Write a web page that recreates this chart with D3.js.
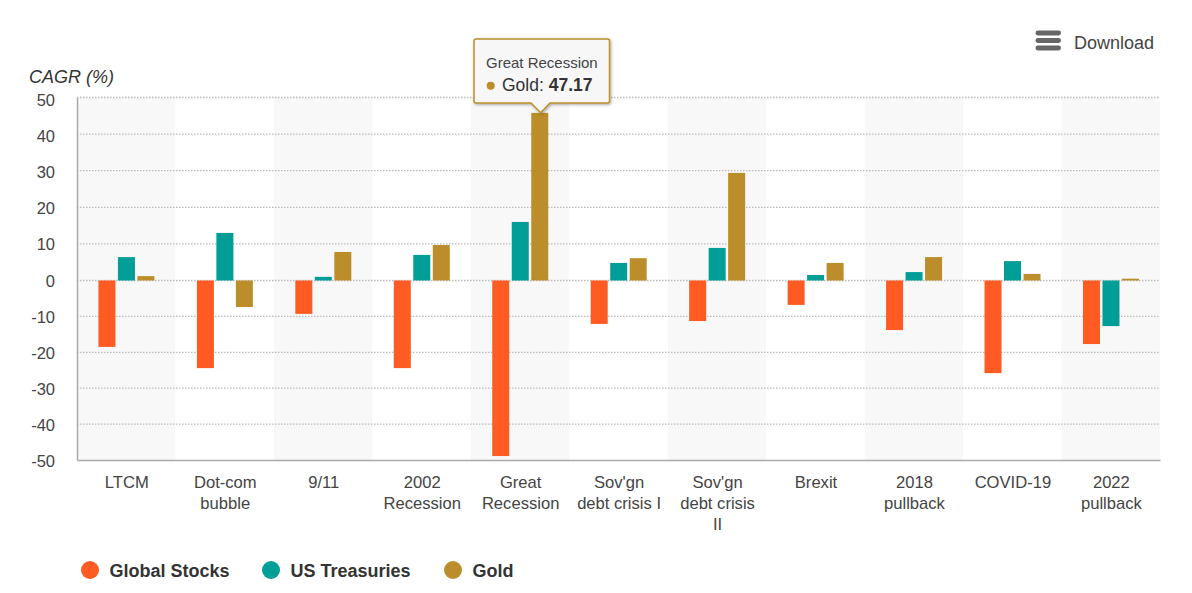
<!DOCTYPE html>
<html>
<head>
<meta charset="utf-8">
<script src="https://cdn.jsdelivr.net/npm/d3@7"></script>
<style>
  html, body { margin: 0; padding: 0; background: #fff; }
  svg { display: block; font-family: "Liberation Sans", Arial, sans-serif; }
</style>
</head>
<body>
<svg width="1192" height="593"></svg>
<script>
// Data
const categories = ["LTCM", "Dot-com bubble", "9/11", "2002 Recession", "Great Recession",
  "Sov'gn debt crisis I", "Sov'gn debt crisis II", "Brexit", "2018 pullback", "COVID-19", "2022 pullback"];
const categoryLines = [["LTCM"], ["Dot-com", "bubble"], ["9/11"], ["2002", "Recession"], ["Great", "Recession"],
  ["Sov'gn", "debt crisis I"], ["Sov'gn", "debt crisis", "II"], ["Brexit"], ["2018", "pullback"], ["COVID-19"], ["2022", "pullback"]];
const seriesNames = ["Global Stocks", "US Treasuries", "Gold"];
const seriesColors = ["#ff5b23", "#009e96", "#bb8e2b"];
const globalStocks = [-18.5, -24.4, -9.3, -24.4, -48.9, -12.1, -11.3, -6.8, -13.8, -25.8, -17.7];
const usTreasuries = [6.4, 13, 1, 7, 16, 4.8, 8.9, 1.5, 2.3, 5.3, -12.7];
const gold = [1.2, -7.4, 7.8, 9.7, 45.8, 6.1, 29.4, 4.8, 6.4, 1.8, 0.5];
const yTicks = [50, 40, 30, 20, 10, 0, -10, -20, -30, -40, -50];

const svg = d3.select("svg");
const plotLeft = 77, plotRight = 1160, plotTop = 97.5, plotBottom = 460;
const textColor = "#444";

const x = d3.scaleBand().domain(categories).range([plotLeft, plotRight]);
const x1 = d3.scaleBand().domain(seriesNames).range([-27.8, 28.2]).paddingInner(0.128);
const y = d3.scaleLinear().domain([-50, 0, 50]).range([plotBottom, 280.5, plotTop]);
// tick labels sit a little lower than the grid lines
const yLabel = d3.scaleLinear().domain([-50, 50]).range([461.5, 100]);

// Alternating bands
svg.append("g").selectAll("rect")
  .data(categories.filter((d, i) => i % 2 === 0))
  .join("rect")
  .attr("x", d => x(d))
  .attr("y", plotTop)
  .attr("width", x.bandwidth())
  .attr("height", plotBottom - plotTop)
  .attr("fill", "#f8f8f8");

// Grid lines
svg.append("g").selectAll("line")
  .data(yTicks.filter(d => d !== -50))
  .join("line")
  .attr("x1", plotLeft)
  .attr("x2", plotRight)
  .attr("y1", d => y(d))
  .attr("y2", d => y(d))
  .attr("stroke", "#bbb")
  .attr("stroke-width", 1.3)
  .attr("stroke-dasharray", "1.5,1.5");

// Y axis
const yAxis = svg.append("g")
  .attr("transform", `translate(${plotLeft},0)`)
  .call(d3.axisLeft(y).tickValues(yTicks).tickSize(0).tickPadding(22).tickFormat(d => String(d)));
yAxis.select(".domain").attr("stroke", "#aaa").attr("stroke-width", 1.5);
yAxis.selectAll("text")
  .attr("font-size", 16.5)
  .attr("font-family", "Liberation Sans")
  .attr("fill", textColor)
  .attr("y", d => yLabel(d) - y(d));

// X axis
const xAxis = svg.append("g")
  .attr("transform", `translate(0,${plotBottom})`)
  .call(d3.axisBottom(x).tickSize(0).tickFormat(""));
xAxis.select(".domain").attr("stroke", "#aaa").attr("stroke-width", 1.5);

const xLabels = svg.append("g")
  .attr("font-size", 16.6)
  .attr("fill", textColor)
  .attr("text-anchor", "middle");
categories.forEach((c, i) => {
  categoryLines[i].forEach((line, j) => {
    xLabels.append("text")
      .attr("x", x(c) + x.bandwidth() / 2 + 0.6)
      .attr("y", 488 + j * 21)
      .text(line);
  });
});

// Bars
[globalStocks, usTreasuries, gold].forEach((values, s) => {
  svg.append("g").selectAll("rect")
    .data(values)
    .join("rect")
    .attr("x", (d, i) => x(categories[i]) + x.bandwidth() / 2 + x1(seriesNames[s]))
    .attr("y", d => y(Math.max(d, 0)))
    .attr("width", x1.bandwidth())
    .attr("height", d => Math.abs(y(d) - y(0)))
    .attr("fill", seriesColors[s]);
});

// Axis title
svg.append("text")
  .attr("x", 29)
  .attr("y", 83)
  .attr("font-size", 18)
  .attr("font-style", "italic")
  .attr("fill", "#333")
  .text("CAGR (%)");

// Legend
const legendX = [90, 271, 453];
const legend = svg.append("g").selectAll("g")
  .data(seriesNames)
  .join("g")
  .attr("transform", (d, i) => `translate(${legendX[i]},570)`);
legend.append("circle")
  .attr("r", 9)
  .attr("fill", (d, i) => seriesColors[i]);
legend.append("text")
  .attr("x", 19.5)
  .attr("y", 7)
  .attr("font-size", 18)
  .attr("font-weight", "bold")
  .attr("fill", "#333")
  .text(d => d);

// Download menu
const menu = svg.append("g").attr("fill", "#666");
[30.5, 38, 45.5].forEach(d => {
  menu.append("rect")
    .attr("x", 1035.5)
    .attr("y", d)
    .attr("width", 25.5)
    .attr("height", 5)
    .attr("rx", 2.4);
});
svg.append("text")
  .attr("x", 1074)
  .attr("y", 49)
  .attr("font-size", 18)
  .attr("fill", "#444")
  .text("Download");

// Tooltip
const defs = svg.append("defs");
const shadow = defs.append("filter").attr("id", "tipShadow")
  .attr("x", "-10%").attr("y", "-10%").attr("width", "120%").attr("height", "130%");
shadow.append("feDropShadow")
  .attr("dx", 1).attr("dy", 1).attr("stdDeviation", 1.5)
  .attr("flood-color", "#000").attr("flood-opacity", 0.35);

const tip = svg.append("g");
tip.append("path")
  .attr("d", "M476,39 H607.5 Q609.5,39 609.5,41 V101 Q609.5,103 607.5,103 H550 L540.7,112.7 L531,103 H476 Q474,103 474,101 V41 Q474,39 476,39 Z")
  .attr("fill", "#f7f7f7")
  .attr("stroke", seriesColors[2])
  .attr("stroke-width", 1.5)
  .attr("filter", "url(#tipShadow)");
tip.append("text")
  .attr("x", 486)
  .attr("y", 68)
  .attr("font-size", 15)
  .attr("fill", "#444")
  .text(categories[4]);
tip.append("circle")
  .attr("cx", 490.7)
  .attr("cy", 85.7)
  .attr("r", 4)
  .attr("fill", seriesColors[2]);
const tipValue = tip.append("text")
  .attr("x", 502)
  .attr("y", 91)
  .attr("font-size", 17.5)
  .attr("fill", "#333");
tipValue.append("tspan").text(seriesNames[2] + ": ");
tipValue.append("tspan").attr("font-weight", "bold").text("47.17");
</script>
</body>
</html>
